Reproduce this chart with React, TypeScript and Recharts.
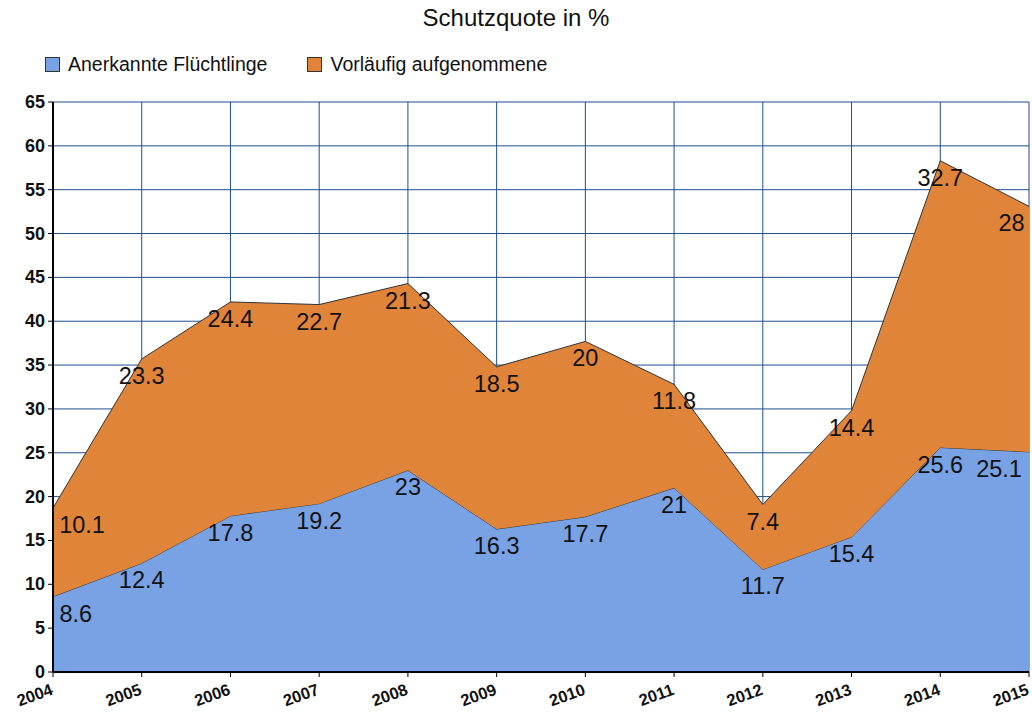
import { AreaChart, Area, XAxis, YAxis, CartesianGrid, LabelList } from 'recharts';

const years = ['2004', '2005', '2006', '2007', '2008', '2009', '2010', '2011', '2012', '2013', '2014', '2015'];
const anerkannt = [8.6, 12.4, 17.8, 19.2, 23, 16.3, 17.7, 21, 11.7, 15.4, 25.6, 25.1];
const vorlaeufig = [10.1, 23.3, 24.4, 22.7, 21.3, 18.5, 20, 11.8, 7.4, 14.4, 32.7, 28];
const yTicks = [0, 5, 10, 15, 20, 25, 30, 35, 40, 45, 50, 55, 60, 65];

const BLUE = '#78a2e4';
const ORANGE = '#e0843a';
const GRID = '#1f4e8a';
const FONT = '"Liberation Sans", Arial, sans-serif';

const W = 1032;
const H = 713;
const PLOT_LEFT = 53;
const PLOT_RIGHT = 1029;

const chartData = years.map((y, i) => ({
  year: y,
  a: anerkannt[i],
  v: vorlaeufig[i],
}));

// value label below the point, kept inside the plot
function ValueLabel(props: any) {
  const { x, y, value } = props;
  const txt = String(value);
  const w = txt.length * 12.5;
  let cx = x;
  if (cx - w / 2 < PLOT_LEFT + 4) cx = PLOT_LEFT + 4 + w / 2;
  if (cx + w / 2 > PLOT_RIGHT - 5) cx = PLOT_RIGHT - 5 - w / 2;
  return (
    <text x={cx} y={y + 17} textAnchor="middle" dominantBaseline="central"
      fontFamily={FONT} fontSize={23.5} fill="#111">
      {txt}
    </text>
  );
}

function XTick(props: any) {
  const { x, y, payload } = props;
  return (
    <g transform={`translate(${x + 1},${y + 15})`}>
      <text transform="rotate(-20)" textAnchor="end" fontFamily={FONT} fontSize={16.5}
        fontWeight="bold" fill="#111">
        {payload.value}
      </text>
    </g>
  );
}

function YTick(props: any) {
  const { x, y, payload } = props;
  return (
    <text x={x - 1} y={y} textAnchor="end" dominantBaseline="central" fontFamily={FONT}
      fontSize={18} fontWeight="bold" fill="#111">
      {payload.value}
    </text>
  );
}

function LegendItem({ color, label }: { color: string; label: string }) {
  return (
    <div style={{ display: 'flex', alignItems: 'center', marginRight: 40 }}>
      <div style={{ width: 13, height: 13, background: color, border: '1px solid #333', marginRight: 8 }} />
      <span>{label}</span>
    </div>
  );
}

export default function App() {
  return (
    <div style={{ position: 'absolute', left: 0, top: 0, width: W, height: H, background: '#fff' }}>
      <div style={{ position: 'absolute', left: 0, width: W, top: 4, textAlign: 'center',
        fontFamily: FONT, fontSize: 24, color: '#111' }}>
        Schutzquote in %
      </div>
      <div style={{ position: 'absolute', left: 45, top: 53, display: 'flex',
        fontFamily: FONT, fontSize: 19.5, color: '#111' }}>
        <LegendItem color={BLUE} label="Anerkannte Flüchtlinge" />
        <LegendItem color={ORANGE} label="Vorläufig aufgenommene" />
      </div>
      <AreaChart width={W} height={H} data={chartData}
        margin={{ top: 102, right: W - PLOT_RIGHT, bottom: 0, left: 0 }}>
        <CartesianGrid stroke={GRID} strokeWidth={1} />
        <XAxis dataKey="year" height={41} tick={<XTick />} interval={0}
          axisLine={{ stroke: '#000', strokeWidth: 2 }} tickLine={{ stroke: '#000' }} tickSize={5} />
        <YAxis width={PLOT_LEFT} domain={[0, 65]} ticks={yTicks} tick={<YTick />} interval={0}
          axisLine={{ stroke: '#000', strokeWidth: 2 }} tickLine={{ stroke: '#000' }} tickSize={5} />
        <Area type="linear" dataKey="a" stackId="1" fill={BLUE} fillOpacity={1}
          stroke="#333" strokeWidth={1} isAnimationActive={false}>
          <LabelList dataKey="a" content={<ValueLabel />} />
        </Area>
        <Area type="linear" dataKey="v" stackId="1" fill={ORANGE} fillOpacity={1}
          stroke="#333" strokeWidth={1} isAnimationActive={false}>
          <LabelList dataKey="v" content={<ValueLabel />} />
        </Area>
      </AreaChart>
    </div>
  );
}
